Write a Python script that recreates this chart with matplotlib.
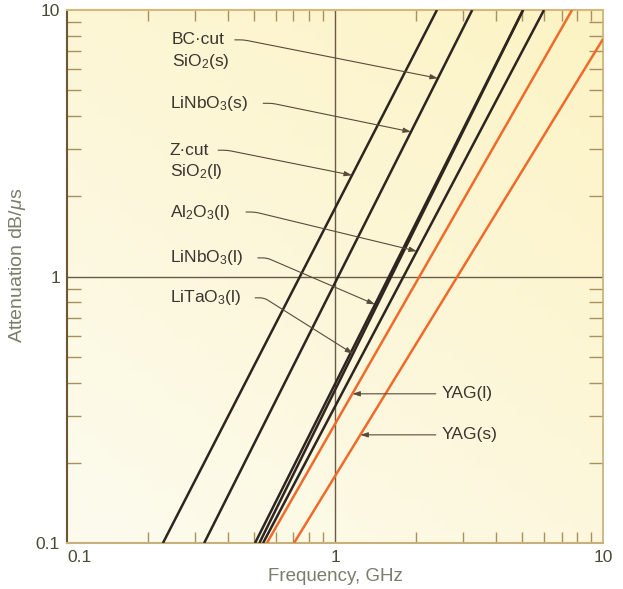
import numpy as np
import matplotlib
matplotlib.use("Agg")
import matplotlib.pyplot as plt
from matplotlib.ticker import FixedLocator, LogLocator, NullFormatter
from matplotlib.colors import LinearSegmentedColormap

plt.rcParams['font.family'] = ['Liberation Sans', 'DejaVu Sans']
plt.rcParams['mathtext.fontset'] = 'custom'
plt.rcParams['mathtext.rm'] = 'Liberation Sans'
plt.rcParams['mathtext.it'] = 'Liberation Sans:italic'

# lines, two points each: (frequency GHz, attenuation dB/us)
f_start = [0.228, 0.325, 0.503, 0.522, 0.539, 0.557, 0.703]
a_start = [0.1, 0.1, 0.1, 0.1, 0.1, 0.1, 0.1]
f_end = [2.40, 3.25, 5.03, 5.03, 6.02, 7.66, 10.0]
a_end = [10, 10, 10, 10, 10, 10, 7.79]
is_yag = [False, False, False, False, False, True, True]

# labels, which line they point at, and the frequency of the arrow tip
labels = ["BC·cut", "LiNbO$_3$(s)", "Z·cut", "Al$_2$O$_3$(l)",
          "LiNbO$_3$(l)", "LiTaO$_3$(l)", "YAG(l)", "YAG(s)"]
second_lines = ["SiO$_2$(s)", "", "SiO$_2$(l)", "", "", "", "", ""]
label_line = [1, 1, 0, 4, 2, 3, 5, 6]
tip_freq = [2.42, 1.92, 1.157, 2.02, 1.41, 1.167, None, None]

xticks = [0.1, 1, 10]
xticklabels = ["0.1", "1", "10"]
yticks = [0.1, 1, 10]
yticklabels = ["0.1", "1", "10"]

dark = "#2e2520"
orange = "#f26a2a"
lead = "#5a4a3c"


def logfrac(i):
    lf0, lf1 = np.log10(f_start[i]), np.log10(f_end[i])
    la0, la1 = np.log10(a_start[i]), np.log10(a_end[i])
    return lf0, lf1, la0, la1


def att_at(i, f):
    lf0, lf1, la0, la1 = logfrac(i)
    t = (np.log10(f) - lf0) / (lf1 - lf0)
    return 10 ** (la0 + t * (la1 - la0))


def freq_at(i, a):
    lf0, lf1, la0, la1 = logfrac(i)
    t = (np.log10(a) - la0) / (la1 - la0)
    return 10 ** (lf0 + t * (lf1 - lf0))


fig = plt.figure(figsize=(6.23, 5.89), dpi=100)
ax = fig.add_axes([0.1075, 0.078, 0.8605, 0.905])

# paper tint, lighter at the bottom left
cmap = LinearSegmentedColormap.from_list("paper", ["#fdfbee", "#fcf3c4"])
gx, gy = np.meshgrid(np.linspace(0, 1, 50), np.linspace(0, 1, 50))
ax.imshow(0.5 * gx + 0.7 * gy, cmap=cmap, extent=[0, 1, 0, 1], origin="lower",
          transform=ax.transAxes, aspect="auto", zorder=0)

ax.set_xscale("log")
ax.set_yscale("log")

for i in range(len(f_start)):
    ax.plot([f_start[i], f_end[i]], [a_start[i], a_end[i]],
            color=orange if is_yag[i] else dark, lw=1.8, zorder=3,
            solid_capstyle="butt")

ax.set_xlim(0.1, 10)
ax.set_ylim(0.1, 10)

ax.axvline(1, color="#6a5a48", lw=1, zorder=2)
ax.axhline(1, color="#6a5a48", lw=1, zorder=2)

# label positions (axes fraction)
text_x = [0.196, 0.192, 0.192, 0.192, 0.192, 0.192, 0.698, 0.698]
text_y = [0.944, 0.825, 0.737, 0.621, 0.535, 0.460, 0.280, 0.203]
lead_x = [0.313, 0.366, 0.282, 0.334, 0.356, 0.351, 0.688, 0.688]

for k in range(len(labels)):
    ax.text(text_x[k], text_y[k], labels[k], transform=ax.transAxes,
            fontsize=12.5, color="#3a3530", va="center", ha="left", zorder=5)
    if second_lines[k]:
        ax.text(text_x[k], text_y[k] - 0.04, second_lines[k], transform=ax.transAxes,
                fontsize=12.5, color="#3a3530", va="center", ha="left", zorder=5)
    i = label_line[k]
    if is_yag[i]:
        a_tip = 10 ** (-1 + 2 * text_y[k])
        tip = (freq_at(i, a_tip), a_tip)
        cs = "arc3,rad=0"
    else:
        tip = (tip_freq[k], att_at(i, tip_freq[k]))
        cs = "arc,angleA=0,armA=9,armB=0,rad=4"
    ax.annotate("", xy=tip, xycoords="data",
                xytext=(lead_x[k], text_y[k]), textcoords="axes fraction",
                arrowprops=dict(arrowstyle="-|>,head_length=0.45,head_width=0.15",
                                color=lead, lw=0.8, shrinkA=0, shrinkB=0,
                                connectionstyle=cs), zorder=4)

ax.xaxis.set_major_locator(FixedLocator(xticks))
ax.yaxis.set_major_locator(FixedLocator(yticks))
ax.set_xticklabels(xticklabels)
ax.set_yticklabels(yticklabels)
ax.xaxis.set_minor_locator(LogLocator(base=10, subs=np.arange(2, 10)))
ax.yaxis.set_minor_locator(LogLocator(base=10, subs=np.arange(2, 10)))
ax.xaxis.set_minor_formatter(NullFormatter())
ax.yaxis.set_minor_formatter(NullFormatter())

ax.tick_params(which="major", length=0, labelsize=12.5, labelcolor="#4a4a35")
ax.tick_params(axis="x", which="major", pad=5)
ax.tick_params(axis="y", which="major", pad=5)
ax.tick_params(axis="y", which="minor", direction="in", length=10, width=1,
               color="#a8905f", left=True, right=True)
ax.tick_params(axis="x", which="minor", direction="in", length=8, width=1,
               color="#a8905f", bottom=True, top=True)
ax.get_xticklabels()[0].set_horizontalalignment("left")

ax.spines["left"].set_color("#6b5535")
ax.spines["left"].set_linewidth(1.5)
ax.spines["bottom"].set_color("#c7b07a")
ax.spines["bottom"].set_linewidth(1.5)
ax.spines["top"].set_color("#d8b878")
ax.spines["top"].set_linewidth(1.5)
ax.spines["right"].set_color("#c7b07a")
ax.spines["right"].set_linewidth(1.2)

ax.set_xlabel("Frequency, GHz", fontsize=13.5, color="#7c7c6c")
ax.set_ylabel("Attenuation dB/$\\mu$s", fontsize=14, color="#7c7c6c")
ax.xaxis.set_label_coords(0.5, -0.047)
ax.yaxis.set_label_coords(-0.073, 0.52)

fig.savefig("out.png", dpi=100)
